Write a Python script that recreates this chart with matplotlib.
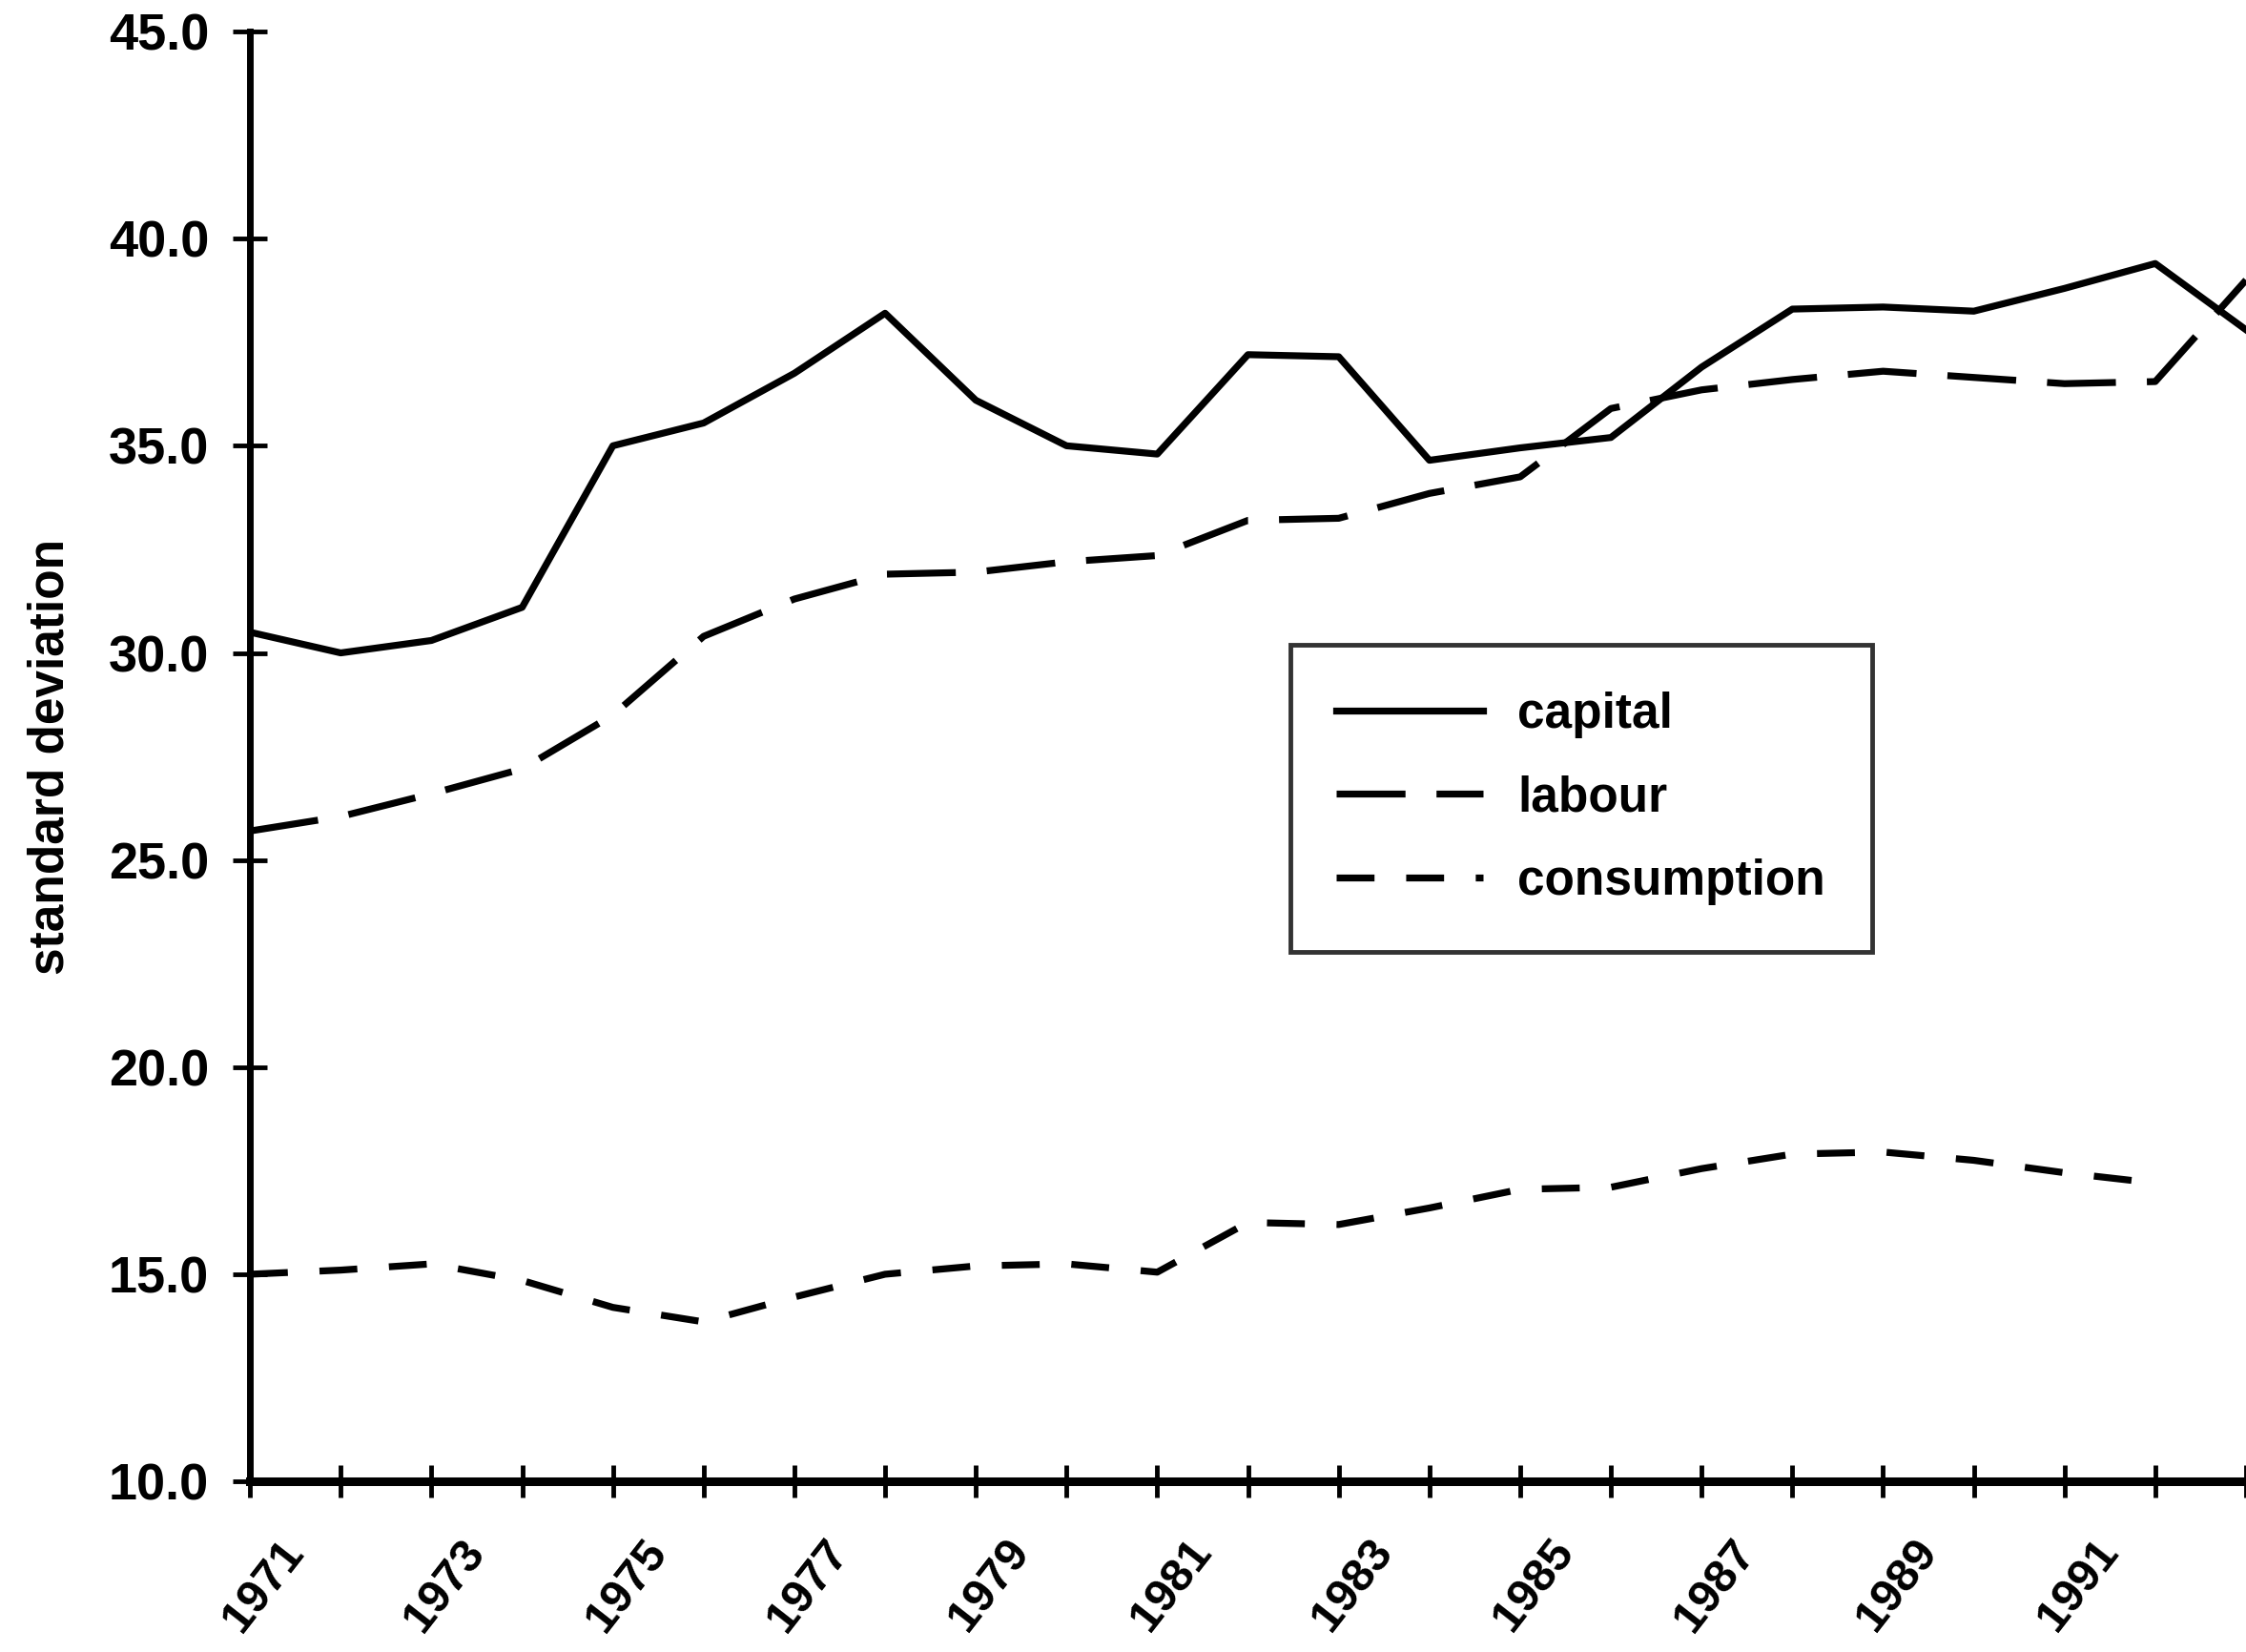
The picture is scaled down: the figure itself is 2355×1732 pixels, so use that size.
import matplotlib.pyplot as plt
from matplotlib.transforms import ScaledTranslation

# data
years = list(range(1971, 1994))
capital = [30.5, 30.0, 30.3, 31.1, 35.0, 35.55, 36.75, 38.2, 36.1, 35.0, 34.8,
           37.2, 37.15, 34.65, 34.95, 35.2, 36.9, 38.3, 38.35, 38.25, 38.8, 39.4, 37.8]
labour = [25.7, 26.05, 26.6, 27.2, 28.5, 30.4, 31.3, 31.9, 31.95, 32.2, 32.35,
          33.2, 33.25, 33.85, 34.25, 35.9, 36.35, 36.6, 36.8, 36.65, 36.5, 36.55, 39.0]
cons_years = list(range(1971, 1993))
consumption = [15.0, 15.1, 15.25, 14.85, 14.2, 13.85, 14.45, 15.0, 15.2, 15.25, 15.05,
               16.25, 16.2, 16.6, 17.05, 17.1, 17.55, 17.9, 17.95, 17.75, 17.45, 17.2]
y_ticks = [10.0, 15.0, 20.0, 25.0, 30.0, 35.0, 40.0, 45.0]
labelled_years = list(range(1971, 1992, 2))

plt.rcParams['font.family'] = ['Liberation Sans', 'DejaVu Sans']
plt.rcParams['font.weight'] = 'bold'

fig = plt.figure(figsize=(23.55, 17.32), dpi=100)
ax = fig.add_axes([0.1113, 0.1033, 0.8887, 0.8776])

ax.plot(years, capital, color='black', lw=5.2, label='capital')
ax.plot(years, labour, color='black', lw=5.2, dashes=(10, 4.5), label='labour')
ax.plot(cons_years, consumption, color='black', lw=5.2, dashes=(5.5, 4.6),
        label='consumption')

ax.set_xlim(1971, 1993)
ax.set_ylim(10, 45)

for side in ['top', 'right']:
    ax.spines[side].set_visible(False)
ax.spines['left'].set_linewidth(5)
ax.spines['bottom'].set_linewidth(6.5)

ax.set_yticks(y_ticks)
ax.set_yticklabels([f"{v:.1f}" for v in y_ticks])
ax.tick_params(axis='y', direction='inout', length=26, width=3.5, labelsize=39, pad=18)

ax.set_xticks(years)
ax.set_xticklabels([str(y) if y in labelled_years else '' for y in years])
ax.tick_params(axis='x', direction='inout', length=24, width=3.5, labelsize=35, pad=26)
shift = ScaledTranslation(0.3, 0, fig.dpi_scale_trans)
for lab in ax.get_xticklabels():
    lab.set_rotation(52)
    lab.set_ha('right')
    lab.set_va('top')
    lab.set_rotation_mode('anchor')
    lab.set_transform(lab.get_transform() + shift)

ax.set_ylabel('standard deviation', fontsize=37, fontweight='bold')
ax.yaxis.set_label_coords(-0.088, 0.5)

leg = ax.legend(loc='upper left', bbox_to_anchor=(0.521, 0.577), borderaxespad=0,
                prop={'size': 37, 'weight': 'bold'}, fancybox=False,
                handlelength=3.0, handletextpad=0.7, labelspacing=0.75, borderpad=0.95)
leg.get_frame().set_edgecolor('black')
leg.get_frame().set_linewidth(3.5)

fig.savefig('out.png', dpi=100)
